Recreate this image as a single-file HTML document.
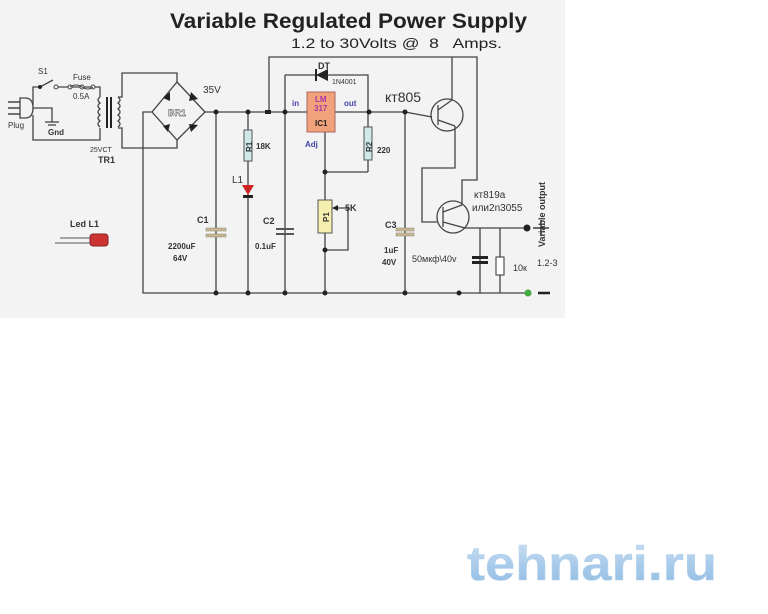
<!DOCTYPE html>
<html><head><meta charset="utf-8"><style>
html,body{margin:0;padding:0;background:#fff;width:768px;height:614px;overflow:hidden}
svg{display:block}
text{font-family:"Liberation Sans",sans-serif}
</style></head><body>
<svg width="768" height="614" viewBox="0 0 768 614" xmlns="http://www.w3.org/2000/svg">
<defs><linearGradient id="lg" x1="0" y1="0" x2="0" y2="1"><stop offset="0" stop-color="#cfe3f5"/><stop offset="0.5" stop-color="#a9cbea"/><stop offset="1" stop-color="#8fbce4"/></linearGradient></defs>
<rect x="0" y="0" width="565" height="318" fill="#f3f3f3"/>
<text x="170" y="28" font-size="21" font-weight="bold" fill="#222" textLength="357" lengthAdjust="spacingAndGlyphs">Variable Regulated Power Supply</text>
<text x="291" y="48" font-size="14" fill="#222" textLength="211" lengthAdjust="spacingAndGlyphs">1.2 to 30Volts @ &#160;8 &#160; Amps.</text>
<g stroke="#444" stroke-width="1.3" fill="none">
<polyline points="33,105 33,87 40,87"/><line x1="40" y1="87" x2="53" y2="80"/><polyline points="56,87 100,87 100,97"/>
<polyline points="33,115 33,140 100,140 100,128"/><polyline points="30,108 52,108 52,122"/>
<line x1="45" y1="122" x2="59" y2="122"/><line x1="48" y1="125" x2="56" y2="125"/>
<path d="M100,97 q-4,3 0,6 q-4,3 0,6 q-4,3 0,6 q-4,3 0,6 q-4,3 0,6" />
<path d="M118,97 q4,3 0,6 q4,3 0,6 q4,3 0,6 q4,3 0,6 q4,3 0,6"/>
<polyline points="118,97 122,97 122,73 177,73 177,82"/><polyline points="118,128 122,128 122,148 177,148 177,140"/>
<polygon points="177,82 205,112 177,140 152,112"/>
<polyline points="152,112 143,112 143,293 528,293"/>
<line x1="205" y1="112" x2="307" y2="112"/><line x1="335" y1="112" x2="405" y2="112"/>
<polyline points="405,112 432,117"/>
<line x1="216" y1="112" x2="216" y2="293"/><line x1="248" y1="112" x2="248" y2="293"/>
<polyline points="269,112 269,57 477,57 477,180 462,180 462,205"/>
<line x1="285" y1="75" x2="285" y2="293"/>
<polyline points="285,75 368,75 368,112"/>
<line x1="368" y1="112" x2="368" y2="172"/><polyline points="325,132 325,293"/><line x1="325" y1="172" x2="368" y2="172"/>
<polyline points="336,208 348,208 348,250 325,250"/>
<line x1="405" y1="112" x2="405" y2="293"/>
<line x1="452" y1="57" x2="452" y2="100"/>
<polyline points="455,126 455,168 422,168 422,222 437,222"/>
<polyline points="465,228 527,228"/>
<line x1="480" y1="228" x2="480" y2="293"/><line x1="500" y1="228" x2="500" y2="293"/>
<circle cx="447" cy="115" r="16"/><circle cx="453" cy="217" r="16"/>
<line x1="438" y1="105" x2="438" y2="125"/><line x1="438" y1="110" x2="452" y2="100"/><line x1="438" y1="120" x2="455" y2="126"/>
<line x1="443" y1="207" x2="443" y2="227"/><line x1="443" y1="212" x2="462" y2="205"/><line x1="443" y1="222" x2="465" y2="228"/>
</g>
<g fill="#222">
<polygon points="163,98 170,92 170,101"/><polygon points="191,92 198,99 189,101"/><polygon points="163,126 170,124 168,132"/><polygon points="189,124 198,125 191,132"/>
<polygon points="316,75 328,69 328,81"/><rect x="315" y="69" width="2" height="12"/>
<rect x="265" y="110" width="6" height="4"/>
<circle cx="216" cy="112" r="2.5"/><circle cx="248" cy="112" r="2.5"/><circle cx="285" cy="112" r="2.5"/><circle cx="369" cy="112" r="2.5"/><circle cx="405" cy="112" r="2.5"/>
<circle cx="325" cy="172" r="2.5"/><circle cx="325" cy="250" r="2.5"/>
<circle cx="216" cy="293" r="2.5"/><circle cx="248" cy="293" r="2.5"/><circle cx="285" cy="293" r="2.5"/><circle cx="325" cy="293" r="2.5"/><circle cx="405" cy="293" r="2.5"/><circle cx="459" cy="293" r="2.5"/>
<circle cx="527" cy="228" r="3.5"/>
<circle cx="40" cy="87" r="2"/>
</g>
<circle cx="528" cy="293" r="3.5" fill="#4a4"/>
<g stroke="#444" fill="#f3f3f3"><circle cx="56" cy="87" r="2"/><circle cx="70" cy="87" r="2"/><circle cx="82" cy="87" r="2"/><circle cx="93" cy="87" r="2"/></g>
<path d="M70,87 q6,-4 12,0 M82,87 q6,4 11,0" stroke="#444" fill="none"/>
<path d="M20,98 h5 q8,0 8,10 q0,10 -8,10 h-5z" fill="#f3f3f3" stroke="#444" stroke-width="1.3"/>
<g stroke="#444" stroke-width="1.5"><line x1="8" y1="102" x2="20" y2="102"/><line x1="8" y1="108" x2="20" y2="108"/><line x1="8" y1="114" x2="20" y2="114"/></g>
<rect x="106" y="97" width="2" height="31" fill="#222"/><rect x="110" y="97" width="2" height="31" fill="#222"/>
<rect x="307" y="92" width="28" height="40" fill="#f0a37a" stroke="#a66"/>
<rect x="244" y="130" width="8" height="31" fill="#cfe8e8" stroke="#555"/>
<rect x="364" y="127" width="8" height="33" fill="#cfe8e8" stroke="#555"/>
<rect x="318" y="200" width="14" height="33" fill="#f5f0b0" stroke="#555"/>
<polygon points="332,208 338,205 338,211" fill="#222"/>
<polygon points="242,185 254,185 248,195" fill="#c22"/><rect x="243" y="195" width="10" height="3" fill="#222"/>
<rect x="206" y="228" width="20" height="3" fill="#c8b88a" stroke="#888" stroke-width=".5"/><rect x="206" y="234" width="20" height="3" fill="#c8b88a" stroke="#888" stroke-width=".5"/>
<rect x="276" y="228" width="18" height="2" fill="#555"/><rect x="276" y="233" width="18" height="2" fill="#555"/>
<rect x="396" y="228" width="18" height="3" fill="#c8b88a" stroke="#888" stroke-width=".5"/><rect x="396" y="233" width="18" height="3" fill="#c8b88a" stroke="#888" stroke-width=".5"/>
<rect x="472" y="256" width="16" height="3" fill="#222"/><rect x="472" y="261" width="16" height="3" fill="#222"/>
<rect x="496" y="257" width="8" height="18" fill="#fff" stroke="#333"/>
<rect x="90" y="234" width="18" height="12" rx="3" fill="#c33" stroke="#822"/>
<line x1="60" y1="238" x2="90" y2="238" stroke="#555"/><line x1="55" y1="243" x2="90" y2="243" stroke="#555"/>
<line x1="533" y1="228" x2="549" y2="228" stroke="#222" stroke-width="1.3"/><line x1="541" y1="220" x2="541" y2="236" stroke="#222" stroke-width="1.3"/>
<line x1="538" y1="293" x2="550" y2="293" stroke="#222" stroke-width="2.5"/>
<g font-size="8" fill="#333">
<text x="38" y="74">S1</text><text x="73" y="80">Fuse</text><text x="73" y="99">0.5A</text><text x="8" y="128">Plug</text>
<text x="48" y="135" font-weight="bold">Gnd</text><text x="90" y="152" font-size="7">25VCT</text><text x="98" y="163" font-size="9" font-weight="bold">TR1</text>
<text x="203" y="93" font-size="10">35V</text><text x="168" y="116" font-size="9" font-weight="bold" fill="#fff" stroke="#333" stroke-width=".4">BR1</text>
<text x="256" y="149" font-weight="bold">18K</text><text x="232" y="183" font-size="10">L1</text>
<text x="70" y="227" font-weight="bold" font-size="9">Led L1</text>
<text x="197" y="223" font-weight="bold" font-size="9">C1</text><text x="168" y="249" font-weight="bold">2200uF</text><text x="173" y="261" font-weight="bold">64V</text>
<text x="263" y="224" font-weight="bold" font-size="9">C2</text><text x="255" y="249" font-weight="bold">0.1uF</text>
<text x="292" y="106" fill="#44a" font-weight="bold">in</text><text x="344" y="106" fill="#44a" font-weight="bold">out</text>
<text x="315" y="102" fill="#a3a" font-weight="bold">LM</text><text x="314" y="111" fill="#a3a" font-weight="bold">317</text><text x="315" y="126" fill="#222" font-weight="bold">IC1</text>
<text x="305" y="147" fill="#44a" font-weight="bold">Adj</text>
<text x="318" y="69" font-weight="bold" font-size="9">DT</text><text x="332" y="84" font-size="7">1N4001</text>
<text x="377" y="153" font-weight="bold">220</text><text x="345" y="211" font-weight="bold" font-size="9">5K</text>
<text x="385" y="102" font-size="14">кт805</text>
<text x="385" y="228" font-weight="bold" font-size="9">C3</text><text x="384" y="253" font-weight="bold">1uF</text><text x="382" y="265" font-weight="bold">40V</text>
<text x="474" y="198" font-size="10">кт819а</text><text x="472" y="211" font-size="10">или2n3055</text>
<text x="412" y="262" font-size="9">50мкф\40v</text><text x="513" y="271" font-size="9">10к</text><text x="537" y="266" font-size="9">1.2-3</text>
<text x="0" y="0" font-size="9" font-weight="bold" transform="translate(545,247) rotate(-90)">Variable output</text>
<text x="0" y="0" font-size="8" font-weight="bold" transform="translate(252,152) rotate(-90)">R1</text>
<text x="0" y="0" font-size="8" font-weight="bold" transform="translate(372,152) rotate(-90)">R2</text>
<text x="0" y="0" font-size="8" font-weight="bold" transform="translate(329,222) rotate(-90)">P1</text>
</g>
<text x="467" y="580" font-size="48" font-weight="bold" fill="url(#lg)" stroke="#b8d4ee" stroke-width=".5" textLength="250" lengthAdjust="spacingAndGlyphs">tehnari.ru</text>
</svg>
</body></html>
